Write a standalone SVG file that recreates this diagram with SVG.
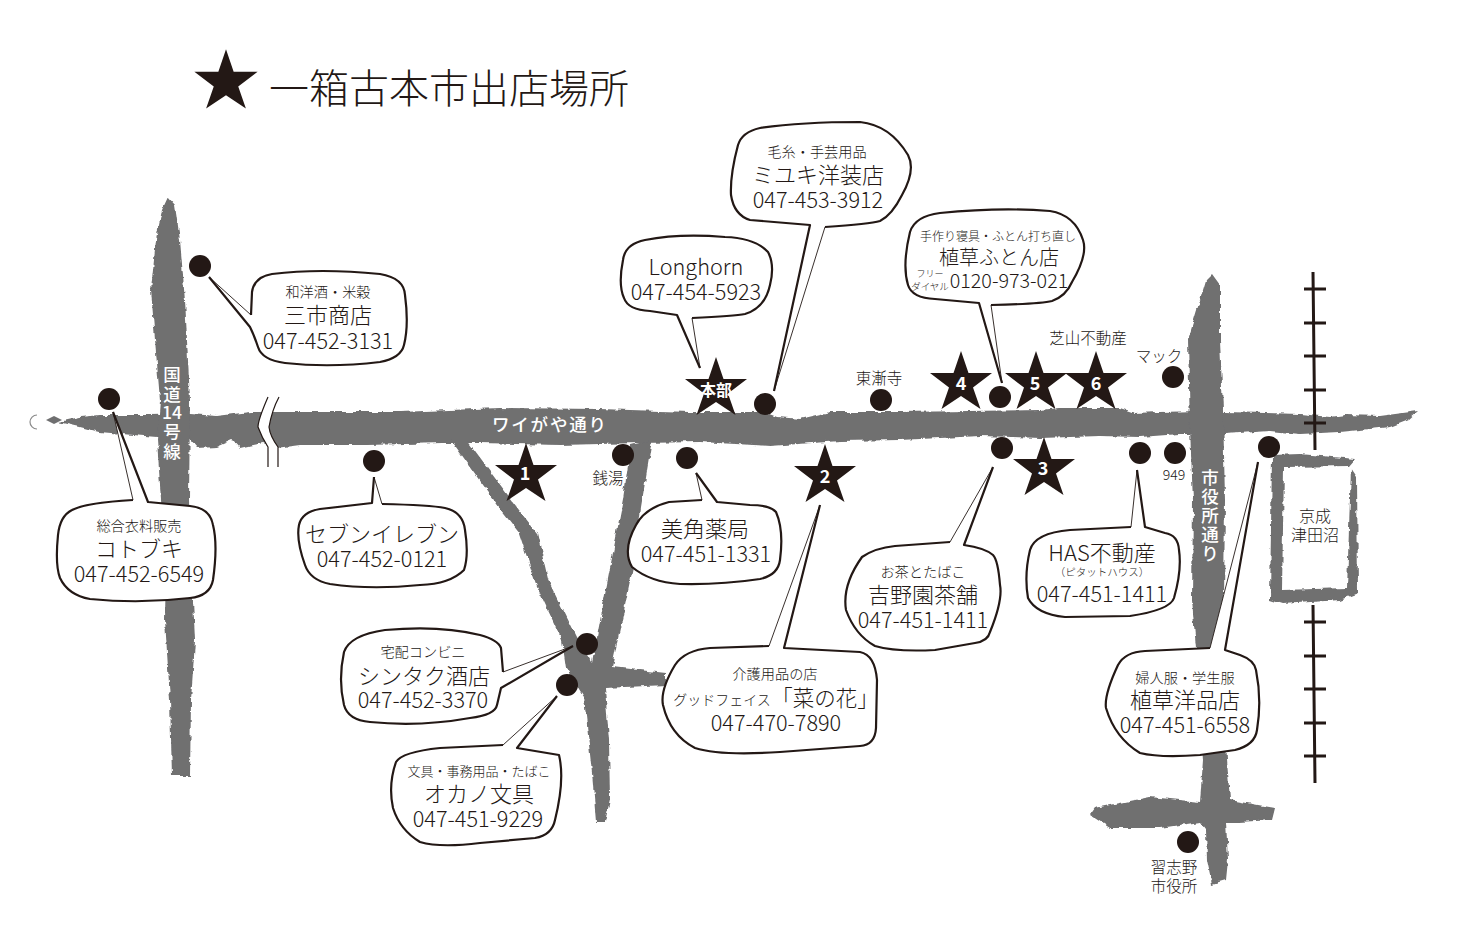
<svg xmlns="http://www.w3.org/2000/svg" width="1464" height="941" viewBox="0 0 1464 941">
<style>
text{font-family:"Noto Sans CJK JP","Noto Sans",sans-serif;fill:#231815;text-anchor:middle;font-weight:300}
.s{font-size:14.2px}
.n{font-size:22px}
.p{font-size:21.7px}
.l{font-size:15.5px}
.w{fill:#fff;font-weight:500;font-size:17.5px}
.d{fill:#fff;font-weight:700;font-size:18px}
.road{fill:#6f6f70}
.body{fill:#fff;stroke:#231815;stroke-width:2.2;stroke-linejoin:round}
.thin{fill:none;stroke:#231815;stroke-width:.9}
.dot{fill:#231815}
.star{fill:#231815}
.track{stroke:#231815;stroke-width:3;fill:none}
</style>
<defs>
<filter id="rough" filterUnits="userSpaceOnUse" x="0" y="0" width="1464" height="941">
<feTurbulence type="fractalNoise" baseFrequency="0.11" numOctaves="3" seed="4"/>
<feDisplacementMap in="SourceGraphic" scale="5" xChannelSelector="R" yChannelSelector="G"/>
</filter>
<polygon id="st" points="0,-32 7.5,-10 31,-10 12,4.5 19.5,26 0,13 -19.5,26 -12,4.5 -31,-10 -7.5,-10"/>
</defs>
<rect width="1464" height="941" fill="#fff"/>

<g id="roads" filter="url(#rough)">
<polygon class="road" points="58,422 80,417 100,415 150,415 190,414 217,416 250,412 333,412 400,412 500,408 600,409 690,412 765,412 778,417 800,419 830,412 900,412 1040,410 1060,408 1120,408 1135,413 1160,412 1200,411 1225,412 1300,414 1330,417 1345,415 1380,416 1418,411 1408,420 1390,427 1340,432 1300,434 1270,431 1225,434 1180,434 1140,437 1100,436 1040,438 980,436 900,440 840,441 770,446 700,442 640,443 560,445 480,443 443,443 367,445 340,445 300,445 277,448 263,443 240,448 233,440 217,447 197,448 190,440 157,437 133,435 100,432 80,427"/>
<polygon class="road" points="168,197 175,205 180,240 185,300 190,400 189,500 191,560 195,640 191,700 190,776 172,776 170,700 165,620 166,560 161,500 157,440 160,400 155,340 151,290 156,240 162,210"/>
<polygon class="road" points="451,440 467,440 519,510 537,533 548,580 576,637 592,663 623,500 631,445 652,440 641,507 634,563 612,667 666,673 666,685 605,688 609,740 610,800 605,822 596,822 592,773 584,697 566,668 562,640 537,587 519,533 501,510"/>
<polygon class="road" points="1212,274 1220,285 1220,340 1223,410 1225,500 1224,600 1222,650 1227,760 1230,800 1275,808 1272,820 1240,822 1226,822 1228,860 1226,880 1212,884 1207,860 1206,830 1200,822 1160,828 1110,828 1090,815 1095,808 1150,797 1200,802 1203,760 1197,660 1192,600 1193,500 1190,430 1188,340 1200,300 1206,280"/>
<polygon class="road" points="1272,455 1300,454 1355,459 1349,466 1284,467 1282,590 1347,588 1351,468 1357,477 1358,593 1340,600 1283,604 1270,600"/>
</g>
<path d="M37,415 A7,7 0 0 0 37,429" fill="none" stroke="#8a8a8a" stroke-width="1.2"/>
<polygon class="road" points="46,420 54,416 62,420 54,424"/>

<g id="break">
<path d="M268,397 Q258,420 258,427 Q262,438 268,447 L268,467 L278,467 L278,447 Q270,436 269,427 Q272,410 279,397 Z" fill="#fff"/>
<path d="M268,397 Q258,420 258,427 Q262,438 268,447 L268,467 M279,397 Q272,410 269,427 Q270,436 278,447 L278,467" fill="none" stroke="#231815" stroke-width="1.2"/>
</g>

<g id="track">
<path class="track" d="M1313,272 L1315,450 M1304,289 H1326 M1304,323 H1326 M1304,356 H1326 M1304,390 H1326 M1304,423 H1326"/>
<path class="track" d="M1313,605 L1315,783 M1304,622 H1326 M1304,656 H1326 M1304,689 H1326 M1304,723 H1326 M1304,756 H1326"/>
</g>

<g id="road-labels">
<text class="w" x="549" y="431" textLength="114">ワイがや通り</text>
<text class="w"><tspan x="172" y="381">国</tspan><tspan x="172" y="401">道</tspan><tspan x="172" y="419">14</tspan><tspan x="172" y="438">号</tspan><tspan x="172" y="458">線</tspan></text>
<text class="w"><tspan x="1210" y="484">市</tspan><tspan x="1210" y="503">役</tspan><tspan x="1210" y="522">所</tspan><tspan x="1210" y="541">通</tspan><tspan x="1210" y="560">り</tspan></text>
</g>

<g id="title">
<use href="#st" class="star" transform="translate(226,82) scale(1.02)"/>
<text x="449" y="103" style="font-size:40px;font-weight:300">一箱古本市出店場所</text>
</g>

<g id="n-sanichi"><path class="body" d="M251,315 L252,292 Q254,277 272,274 Q320,268 380,274 Q404,278 405,295 Q409,325 404,345 Q401,358 380,362 Q330,368 285,363 Q262,360 258,347 Q254,335 250,327 L209,277"/><path class="thin" d="M209,277 L251,315"/>
<text class="s" x="328" y="297">和洋酒・米穀</text><text class="n" x="328" y="323">三市商店</text><text class="p" x="328" y="349">047-452-3131</text></g>

<g id="n-kotobuki"><path class="body" d="M133,500 Q85,503 72,510 Q60,516 58,535 Q55,565 60,578 Q68,595 90,599 Q140,604 190,598 Q210,596 213,580 Q218,545 213,525 Q210,508 190,506 L148,502 L113,412"/><path class="thin" d="M113,412 L133,500"/>
<text class="s" x="139" y="531">総合衣料販売</text><text class="n" x="139" y="557">コトブキ</text><text class="p" x="139" y="582">047-452-6549</text></g>

<g id="n-seven"><path class="body" d="M382,504 Q430,505 445,508 Q463,512 465,530 Q469,555 464,570 Q450,584 420,585 Q370,590 330,584 Q310,580 305,565 Q296,540 299,525 Q302,512 320,509 L372,503 L374,477"/><path class="thin" d="M374,477 L382,504"/>
<text class="n" x="382" y="542">セブンイレブン</text><text class="p" x="382" y="567">047-452-0121</text></g>

<g id="n-longhorn"><path class="body" d="M692,318 Q735,316 745,314 Q765,308 770,285 Q775,265 768,252 Q755,238 725,237 Q680,233 645,240 Q625,244 623,260 Q618,285 624,298 Q628,310 650,311 L677,315 L700,368"/><path class="thin" d="M700,368 L692,318"/>
<text class="p" x="696" y="275">Longhorn</text><text class="p" x="696" y="300">047-454-5923</text></g>

<g id="n-miyuki"><path class="body" d="M825,227 Q870,224 880,221 Q892,215 902,195 Q916,170 908,155 Q890,125 860,122 Q800,122 760,128 Q742,132 738,145 Q730,175 731,195 Q734,215 750,220 L810,225 L774,391"/><path class="thin" d="M774,391 L825,227"/>
<text class="s" x="817" y="157">毛糸・手芸用品</text><text class="n" x="818" y="183">ミユキ洋装店</text><text class="p" x="818" y="208">047-453-3912</text></g>

<g id="n-futon"><path class="body" d="M991,305 Q1040,304 1052,301 Q1066,296 1072,282 Q1088,255 1083,240 Q1075,215 1050,211 Q1000,207 940,213 Q915,216 910,232 Q902,265 908,285 Q912,298 935,299 L979,303 L1002,383"/><path class="thin" d="M1002,383 L991,305"/>
<text x="998" y="241" style="font-size:12px">手作り寝具・ふとん打ち直し</text><text x="999" y="265" style="font-size:20px">植草ふとん店</text>
<text x="930" y="277" style="font-size:9px">フリー</text><text x="930" y="290" style="font-size:9.5px">ダイヤル</text><text x="1009" y="288" style="font-size:19.7px">0120-973-021</text></g>

<g id="n-mikado"><path class="body" d="M702,500 L669,502 Q645,508 636,525 Q622,550 632,567 Q650,582 680,584 Q720,585 760,579 Q778,575 780,560 Q784,530 776,512 Q770,505 750,505 L717,502 L696,473"/><path class="thin" d="M696,473 L702,500"/>
<text class="n" x="705" y="537">美角薬局</text><text class="p" x="706" y="562">047-451-1331</text></g>

<g id="n-nanohana"><path class="body" d="M769,646 L710,648 Q685,650 675,665 Q660,690 663,705 Q670,735 695,748 Q720,756 780,752 L860,746 Q875,745 876,728 L877,680 Q875,655 860,652 L784,648 L820,505"/><path class="thin" d="M820,505 L769,646"/>
<text class="s" x="775" y="679">介護用品の店</text><text x="722" y="705" style="font-size:14px">グッドフェイス</text><text x="825" y="706" style="font-size:21.5px">「菜の花」</text><text class="p" x="776" y="731">047-470-7890</text></g>

<g id="n-shintaku"><path class="body" d="M503,672 L501,648 Q498,640 480,635 Q440,625 385,630 Q350,635 344,652 Q338,680 344,705 Q348,720 370,722 Q420,727 470,718 Q495,715 497,705 L501,688 L573,646"/><path class="thin" d="M573,646 L503,672"/>
<text class="s" x="423" y="657">宅配コンビニ</text><text class="n" x="424" y="684">シンタク酒店</text><text class="p" x="423" y="708">047-452-3370</text></g>

<g id="n-okano"><path class="body" d="M503,745 L440,748 Q402,752 396,762 Q388,785 393,808 Q400,830 420,842 Q440,848 480,843 L535,838 Q552,835 555,820 Q565,780 559,755 L517,748 L557,696"/><path class="thin" d="M557,696 L503,745"/>
<text x="479" y="776" style="font-size:13px">文具・事務用品・たばこ</text><text class="n" x="479" y="802">オカノ文具</text><text class="p" x="478" y="827">047-451-9229</text></g>

<g id="n-yoshino"><path class="body" d="M950,542 L895,546 Q875,548 862,557 Q842,585 846,610 Q855,635 875,646 Q895,652 935,650 L975,643 Q988,641 990,632 Q1003,600 1000,585 Q998,560 993,555 Q985,548 964,545 L993,467"/><path class="thin" d="M993,467 L950,542"/>
<text class="s" x="923" y="577">お茶とたばこ</text><text class="n" x="923" y="603">吉野園茶舗</text><text class="p" x="923" y="628">047-451-1411</text></g>

<g id="n-has"><path class="body" d="M1131,527 L1070,530 Q1035,533 1030,550 Q1024,575 1028,598 Q1036,614 1065,617 L1130,616 Q1170,610 1174,598 Q1182,570 1179,550 Q1178,535 1165,533 L1145,527 L1137,470"/><path class="thin" d="M1137,470 L1131,527"/>
<text class="n" x="1102" y="561">HAS不動産</text><text x="1102" y="576" style="font-size:10.5px">（ピタットハウス）</text><text class="p" x="1102" y="602">047-451-1411</text></g>

<g id="n-yohin"><path class="body" d="M1210,648 L1145,651 Q1125,652 1118,665 Q1104,695 1106,708 Q1115,738 1140,753 Q1160,758 1200,755 L1235,750 Q1255,745 1257,730 Q1262,700 1256,670 Q1254,660 1240,655 L1225,650 L1258,462"/><path class="thin" d="M1258,462 L1210,648"/>
<text class="s" x="1185" y="683">婦人服・学生服</text><text class="n" x="1185" y="708">植草洋品店</text><text class="p" x="1185" y="733">047-451-6558</text></g>

<g id="dots">
<circle class="dot" cx="200" cy="266" r="11"/><circle class="dot" cx="109" cy="399" r="11"/><circle class="dot" cx="374" cy="461" r="11"/><circle class="dot" cx="623" cy="455" r="11"/><circle class="dot" cx="687" cy="458" r="11"/><circle class="dot" cx="765" cy="404" r="11"/><circle class="dot" cx="881" cy="400" r="11"/><circle class="dot" cx="1000" cy="397" r="11"/><circle class="dot" cx="1002" cy="448" r="11"/><circle class="dot" cx="1140" cy="453" r="11"/><circle class="dot" cx="1175" cy="453" r="11"/><circle class="dot" cx="1173" cy="377" r="11"/><circle class="dot" cx="1269" cy="447" r="11"/><circle class="dot" cx="587" cy="644" r="11"/><circle class="dot" cx="567" cy="685" r="11"/><circle class="dot" cx="1188" cy="842" r="11"/>
</g>

<g id="stars">
<g id="star-hq"><use href="#st" class="star" transform="translate(716,389)"/><text class="d" x="716" y="396" style="font-size:16px">本部</text></g>
<g id="star-1"><use href="#st" class="star" transform="translate(526,475)"/><text class="d" x="525" y="480">1</text></g>
<g id="star-2"><use href="#st" class="star" transform="translate(825,476)"/><text class="d" x="825" y="483">2</text></g>
<g id="star-3"><use href="#st" class="star" transform="translate(1044,469)"/><text class="d" x="1043" y="475">3</text></g>
<g id="star-4"><use href="#st" class="star" transform="translate(961,383)"/><text class="d" x="961" y="390">4</text></g>
<g id="star-5"><use href="#st" class="star" transform="translate(1036,383)"/><text class="d" x="1035" y="390">5</text></g>
<g id="star-6"><use href="#st" class="star" transform="translate(1096,383)"/><text class="d" x="1096" y="390">6</text></g>
</g>

<g id="labels">
<text class="l" x="879" y="384">東漸寺</text>
<text class="l" x="1088" y="344">芝山不動産</text>
<text class="l" x="1159" y="362">マック</text>
<text x="1174" y="480" style="font-size:14px">949</text>
<text class="l" x="608" y="484">銭湯</text>
<text x="1315" y="522" style="font-size:16px">京成</text>
<text x="1315" y="541" style="font-size:16px">津田沼</text>
<text class="l" x="1174" y="873">習志野</text>
<text class="l" x="1174" y="892">市役所</text>
</g>
</svg>
